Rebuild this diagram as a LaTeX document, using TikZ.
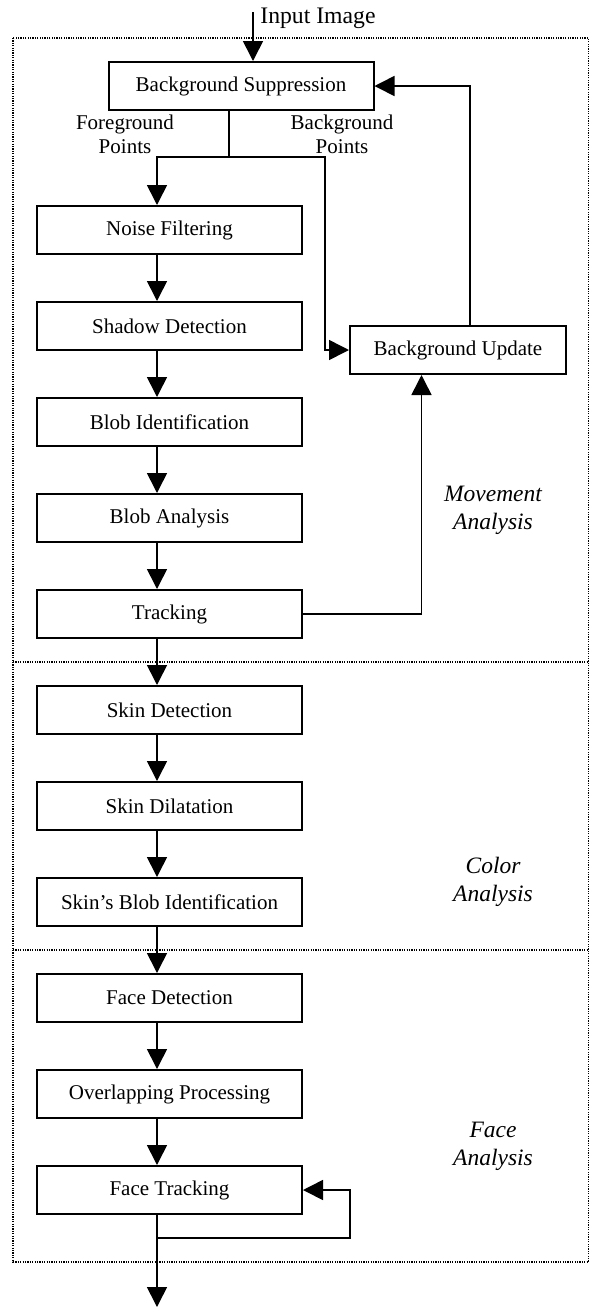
\documentclass[tikz,border=0pt]{standalone}
\usepackage{fontspec}
\setmainfont{Liberation Serif}
\usetikzlibrary{arrows.meta}
\begin{document}
\begin{tikzpicture}[x=0.5pt,y=-0.5pt,
  box/.style={draw,line width=1pt,minimum width=132.5pt,minimum height=24pt,inner sep=0pt,font=\fontsize{10.5}{12.6}\selectfont},
  arr/.style={line width=0.8pt,-{Triangle[length=10pt,width=10pt]}},
  conn/.style={line width=0.8pt},
  frame/.style={line width=0.7pt,dash pattern=on 0.6pt off 0.6pt},
  lbl/.style={font=\fontsize{10.5}{12}\selectfont,align=center,inner sep=0pt},
  area/.style={font=\fontsize{11.75}{14}\selectfont\itshape,align=center,inner sep=0pt}]
\useasboundingbox (0,0) rectangle (590,1308);
% frame and dividers
\draw[frame] (13,38) rectangle (588.5,1262);
\draw[frame] (13,662) -- (588.5,662);
\draw[frame] (13,950) -- (588.5,950);
% boxes
\node[box] (bs) at (241,86) {Background Suppression};
\node[box] (nf) at (169.5,230) {Noise Filtering};
\node[box] (sd) at (169.5,326) {Shadow Detection};
\node[box] (bi) at (169.5,422) {Blob Identification};
\node[box] (ba) at (169.5,518) {Blob Analysis};
\node[box] (tr) at (169.5,614) {Tracking};
\node[box] (skd) at (169.5,710) {Skin Detection};
\node[box] (sdil) at (169.5,806) {Skin Dilatation};
\node[box] (sbi) at (169.5,902) {Skin’s Blob Identification};
\node[box] (fd) at (169.5,998) {Face Detection};
\node[box] (op) at (169.5,1094) {Overlapping Processing};
\node[box] (ft) at (169.5,1190) {Face Tracking};
\node[box,minimum width=108pt] (bu) at (458,350) {Background Update};
% labels (base anchor = baseline of the last line)
\node[font=\fontsize{11.85}{14}\selectfont,anchor=base west,inner sep=0pt] (in) at (260,23) {Input Image};
\node[lbl,anchor=base] (fg) at (125,153) {Foreground\\Points};
\node[lbl,anchor=base] (bgp) at (342,153) {Background\\Points};
\node[area,anchor=base] (mv) at (493,529) {Movement\\Analysis};
\node[area,anchor=base] (co) at (493,901) {Color\\Analysis};
\node[area,anchor=base] (fa) at (493,1165) {Face\\Analysis};
% coordinates
\coordinate (inTop) at (253,12);
\coordinate (L) at (157,0);
\coordinate (split) at (229,157);
\coordinate (R) at (325,157);
\coordinate (T) at (470,0);
\coordinate (U) at (421.5,0);
\coordinate (loopL) at (157,1238);
\coordinate (loopR) at (350,1238);
\coordinate (out) at (157,1307);
% connectors
\draw[arr] (inTop) -- (inTop |- bs.north);
\draw[conn] (bs.south -| split) -- (split);
\draw[arr] (split) -| (nf.north -| L);
\draw[arr] (split) -- (R) |- (bu.west);
\draw[arr] (bu.north -| T) |- (bs.east);
\draw[arr] (tr.east) -| (bu.south -| U);
\foreach \a/\b in {nf/sd,sd/bi,bi/ba,ba/tr,tr/skd,skd/sdil,sdil/sbi,sbi/fd,fd/op,op/ft}
  \draw[arr] (\a.south -| L) -- (\b.north -| L);
\draw[arr] (ft.south -| L) -- (out);
\draw[arr] (loopL) -- (loopR) |- (ft.east);
\end{tikzpicture}
\end{document}
